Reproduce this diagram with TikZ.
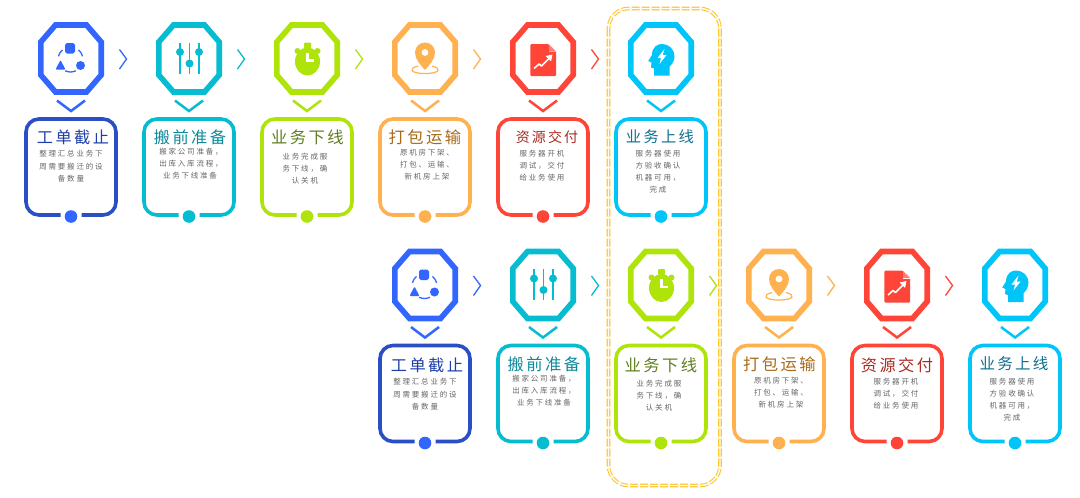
\documentclass[tikz,border=0pt]{standalone}
\usepackage{fontspec}
\newfontfamily\cjkt[LetterSpace=15]{Noto Sans CJK SC}
\newfontfamily\cjkb[LetterSpace=24]{Noto Sans CJK SC}
\definecolor{ca}{HTML}{3366FF}\definecolor{cb}{HTML}{06BCD0}\definecolor{cc}{HTML}{AEE40A}
\definecolor{cd}{HTML}{FFB14F}\definecolor{ce}{HTML}{FF4438}\definecolor{cf}{HTML}{00C5F8}
\definecolor{boxa}{HTML}{2A4FC4}
\definecolor{ta}{HTML}{1F3FA8}\definecolor{tb}{HTML}{0B8A99}\definecolor{tc}{HTML}{5F7F20}
\definecolor{td}{HTML}{A86A18}\definecolor{te}{HTML}{A82A22}\definecolor{tf}{HTML}{0F6F90}
\definecolor{bodygrey}{HTML}{666666}\definecolor{frame}{HTML}{FFC62B}
\tikzset{
  octa/.style={line width=5.6pt,miter limit=10},
  cardbox/.style={line width=3.6pt,line cap=butt},
  downchev/.style={line width=2.5pt},
  sidechev/.style={line width=1.3pt},
  titletext/.style={inner sep=0pt,anchor=center},
  bodytext/.style={inner sep=0pt,anchor=center,text=bodygrey,font=\cjkb\fontsize{7.5}{7.5}\selectfont},
}
% #1 centre x, #2 row shift, #3 colour, #4 box colour, #5 icon, #6 arrow
\newcommand\cardshape[6]{
  \begin{scope}[shift={(#1,#2)}]
    \draw[octa,draw=#3] (-15.5,25) -- (15.5,25) -- (30.2,42) -- (30.2,75) -- (15.5,92) -- (-15.5,92) -- (-30.2,75) -- (-30.2,42) -- cycle;
    \begin{scope}[shift={(0,58.5)}] #5 \end{scope}
    \draw[downchev,draw=#3] (-14,100.5) -- (0,111) -- (14,100.5);
    \draw[cardbox,draw=#4,rounded corners=13pt] (-10.5,215) -- (-45,215) -- (-45,119) -- (45,119) -- (45,215) -- (10.5,215);
    \fill[#3] (0,216.5) circle (6.3);
    #6
  \end{scope}
}
\newcommand\sidearrow[1]{\draw[sidechev,draw=#1] (48.5,49.5) -- (55.5,59) -- (48.5,69);}
\newcommand\iconA{
  \fill[ca,rounded corners=1.8pt] (-6,-15.5) rectangle (4,-5);
  \fill[ca] (9.5,7) circle (4.5);
  \fill[ca,rounded corners=1pt] (-10.5,1.5) -- (-5.5,11) -- (-15.5,11) -- cycle;
  \draw[ca,line width=1.3pt] (-0.5,1) ++(-50:12.5) arc[start angle=-50,end angle=-15,radius=12.5];
  \draw[ca,line width=1.3pt] (-0.5,1) ++(-130:12.5) arc[start angle=-130,end angle=-165,radius=12.5];
  \draw[ca,line width=1.3pt] (-0.5,1) ++(65:12.5) arc[start angle=65,end angle=115,radius=12.5];
}
\newcommand\iconB{
  \draw[cb,line width=1.7pt] (-9,-16) -- (-9,15) (0.5,-16) -- (0.5,15) (10,-16) -- (10,15);
  \fill[cb] (-9,-6.5) circle (4) (0.5,5) circle (4) (10,-6.5) circle (4);
}
\newcommand\iconC{
  \fill[cc] (0.5,3) ellipse (12.5 and 14);
  \fill[cc,rounded corners=1pt] (-3,-16) rectangle (4,-10);
  \fill[cc] (-9.5,-7.5) circle (3) (10.5,-7.5) circle (3);
  \draw[white,line width=2.6pt] (0.5,-6) -- (0.5,2) -- (6.5,2);
}
\newcommand\iconD{
  \fill[cd] (-10,-6) arc[start angle=180,end angle=360,radius=10] .. controls (10,1) and (4,7) .. (0,11.5) .. controls (-4,7) and (-10,1) .. (-10,-6) -- cycle;
  \fill[white] (0,-6) circle (3.4);
  \draw[cd,line width=1.2pt] (-7,7.5) .. controls (-17,10) and (-15,15) .. (0,15) .. controls (15,15) and (17,10) .. (7,7.5);
}
\newcommand\iconE{
  \fill[ce,rounded corners=1.2pt] (-12.7,-14.3) -- (6,-14.3) -- (13,-7) -- (13,17.7) -- (-12.7,17.7) -- cycle;
  \fill[white] (5.5,-14.5) -- (13.2,-14.5) -- (13.2,-6.5) -- (5.5,-6.5) -- cycle;
  \fill[ce!70!white] (6,-14) -- (6,-7) -- (13,-7) -- cycle;
  \draw[white,line width=1.6pt,line join=round] (-9,10) -- (-4,5.5) -- (-1.5,7.5) -- (7,-1);
  \fill[white] (9.5,-4) -- (2.5,-2.5) -- (8,3) -- cycle;
}
\newcommand\iconF{
  \fill[cf] (-7,17) -- (-7,10) -- (-10,9) -- (-9.5,4) -- (-12.8,2.5) -- (-9,-3.5) .. controls (-9,-12) and (-3,-14.5) .. (1,-14.5) .. controls (8,-14.5) and (13.5,-9) .. (13.5,-2.5) .. controls (13.5,2.5) and (11,6) .. (8.5,8) -- (8.5,17) -- cycle;
  \fill[white] (3.5,-9.5) -- (-3.5,-0.5) -- (0,-0.5) -- (-1.5,5.5) -- (5.5,-3.5) -- (1.8,-3.5) -- cycle;
}
\newcommand\ttl[6]{\node[titletext,text=#5,font=\cjkt\fontsize{#4}{#4}\selectfont] (#1) at (#2,#3) {#6};}
\newcommand\dsc[4]{\node[bodytext] (#1) at (#2,#3) {#4};}
\begin{document}
\begin{tikzpicture}[x=1pt,y=-1pt]
\useasboundingbox (0,0) rectangle (1080,498);
\fill[white] (0,0) rectangle (1080,498);
% highlight frame
\draw[draw=frame,double=white,double distance=1.4pt,line width=1.1pt,dash pattern=on 8pt off 2pt,rounded corners=20pt] (608.5,8.5) rectangle (720,485.5);
% top row
\cardshape{71}{0}{ca}{boxa}{\iconA}{\sidearrow{ca}}
\cardshape{189}{0}{cb}{cb}{\iconB}{\sidearrow{cb}}
\cardshape{307}{0}{cc}{cc}{\iconC}{\sidearrow{cc}}
\cardshape{425}{0}{cd}{cd}{\iconD}{\sidearrow{cd}}
\cardshape{543}{0}{ce}{ce}{\iconE}{\sidearrow{ce}}
\cardshape{661}{0}{cf}{cf}{\iconF}{}
% bottom row
\cardshape{425}{226.5}{ca}{boxa}{\iconA}{\sidearrow{ca}}
\cardshape{543}{226.5}{cb}{cb}{\iconB}{\sidearrow{cb}}
\cardshape{661}{226.5}{cc}{cc}{\iconC}{\sidearrow{cc}}
\cardshape{779}{226.5}{cd}{cd}{\iconD}{\sidearrow{cd}}
\cardshape{897}{226.5}{ce}{ce}{\iconE}{\sidearrow{ce}}
\cardshape{1015}{226.5}{cf}{cf}{\iconF}{}
% top row text
\ttl{ta1}{73}{137.5}{16.2}{ta}{工单截止}
\dsc{a1a}{71}{154}{整理汇总业务下}\dsc{a1b}{71}{167}{周需要搬迁的设}\dsc{a1c}{71}{179}{备数量}
\ttl{tb1}{190}{137.5}{16.2}{tb}{搬前准备}
\dsc{b1a}{191}{152}{搬家公司准备，}\dsc{b1b}{191}{164}{出库入库流程，}\dsc{b1c}{190}{176}{业务下线准备}
\ttl{tc1}{307.5}{137}{16.3}{tc}{业务下线}
\dsc{c1a}{305}{157}{业务完成服}\dsc{c1b}{305}{169}{务下线，确}\dsc{c1c}{305}{181}{认关机}
\ttl{td1}{425}{137}{16.3}{td}{打包运输}
\dsc{d1a}{427}{153}{原机房下架、}\dsc{d1b}{427}{165}{打包、运输、}\dsc{d1c}{427}{177}{新机房上架}
\ttl{te1}{547}{137}{14}{te}{资源交付}
\dsc{e1a}{542}{154}{服务器开机}\dsc{e1b}{542}{166}{调试，交付}\dsc{e1c}{542}{178}{给业务使用}
\ttl{tf1}{660}{137}{15.3}{tf}{业务上线}
\dsc{f1a}{658}{154}{服务器使用}\dsc{f1b}{658}{166}{方验收确认}\dsc{f1c}{658}{178}{机器可用，}\dsc{f1d}{658}{190}{完成}
% bottom row text
\ttl{ta2}{427}{365}{16.2}{ta}{工单截止}
\dsc{a2a}{425}{382}{整理汇总业务下}\dsc{a2b}{425}{395}{周需要搬迁的设}\dsc{a2c}{425}{407}{备数量}
\ttl{tb2}{544}{364}{16.3}{tb}{搬前准备}
\dsc{b2a}{544}{379}{搬家公司准备，}\dsc{b2b}{544}{391}{出库入库流程，}\dsc{b2c}{544}{403}{业务下线准备}
\ttl{tc2}{661}{365}{16.3}{tc}{业务下线}
\dsc{c2a}{659}{384}{业务完成服}\dsc{c2b}{659}{396}{务下线，确}\dsc{c2c}{659}{408}{认关机}
\ttl{td2}{779.5}{364}{16.3}{td}{打包运输}
\dsc{d2a}{781}{381}{原机房下架、}\dsc{d2b}{781}{393}{打包、运输、}\dsc{d2c}{781}{405}{新机房上架}
\ttl{te2}{897}{365}{16.2}{te}{资源交付}
\dsc{e2a}{896}{382}{服务器开机}\dsc{e2b}{896}{394}{调试，交付}\dsc{e2c}{896}{406}{给业务使用}
\ttl{tf2}{1014}{364}{15.5}{tf}{业务上线}
\dsc{f2a}{1012}{382}{服务器使用}\dsc{f2b}{1012}{394}{方验收确认}\dsc{f2c}{1012}{406}{机器可用，}\dsc{f2d}{1012}{418}{完成}
\end{tikzpicture}
\end{document}
